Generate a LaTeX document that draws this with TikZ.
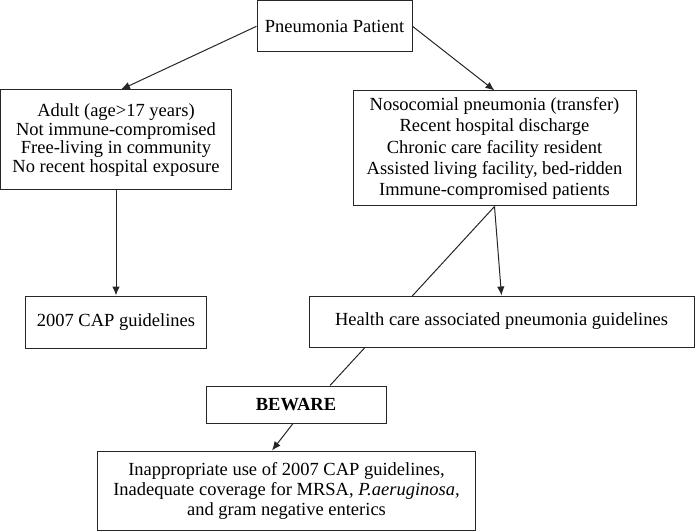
\documentclass[tikz,border=0pt]{standalone}
\usepackage{fontspec}
\setmainfont{Liberation Serif}
\usetikzlibrary{arrows.meta,backgrounds}
\begin{document}
\begin{tikzpicture}[x=1bp,y=-1bp,
  box/.style={draw=black!85,line width=1bp,fill=white,inner sep=0pt,align=center,
    font=\fontsize{18.5bp}{18.5bp}\selectfont},
  arr/.style={draw=black!85,line width=1bp,-{Latex[length=9bp,width=7.5bp]}},
  ln/.style={draw=black!85,line width=1bp}]
\useasboundingbox (0,0) rectangle (695,532);
\node[box,minimum width=155bp,minimum height=51bp] (top) at (334.5,26.3) {Pneumonia Patient};
\node[box,minimum width=230bp,minimum height=100bp,font=\fontsize{18.5bp}{18.4bp}\selectfont] (left) at (116,140)
  {Adult (age>17 years)\\Not immune-compromised\\Free-living in community\\No recent hospital exposure};
\node[box,minimum width=283bp,minimum height=115bp,font=\fontsize{18.5bp}{21.3bp}\selectfont] (right) at (494.5,148.5)
  {Nosocomial pneumonia (transfer)\\Recent hospital discharge\\Chronic care facility resident\\Assisted living facility, bed-ridden\\Immune-compromised patients};
\node[box,minimum width=180bp,minimum height=52bp] (cap) at (116,322) {2007 CAP guidelines};
\node[box,minimum width=385bp,minimum height=51bp] (hcap) at (501.5,321.5) {Health care associated pneumonia guidelines};
\node[box,minimum width=180bp,minimum height=37bp] (beware) at (296,404.5) {\textbf{BEWARE}};
\node[box,minimum width=377bp,minimum height=79bp,font=\fontsize{18.5bp}{20bp}\selectfont] (bot) at (286.5,490.5)
  {Inappropriate use of 2007 CAP guidelines,\\Inadequate coverage for MRSA, \textit{P.aeruginosa,}\\and gram negative enterics};
\begin{scope}[on background layer]
\draw[ln] (right.south) -- ([xshift=34bp]beware.north);
\end{scope}
\draw[arr] (top.west) -- ([xshift=5bp]left.north);
\draw[arr] (top.east) -- (right.north);
\draw[arr] (left.south) -- (cap.north);
\draw[arr] (right.south) -- (hcap.north);
\draw[arr] ([xshift=-3bp]beware.south) -- ([xshift=-14.5bp]bot.north);
\end{tikzpicture}
\end{document}
